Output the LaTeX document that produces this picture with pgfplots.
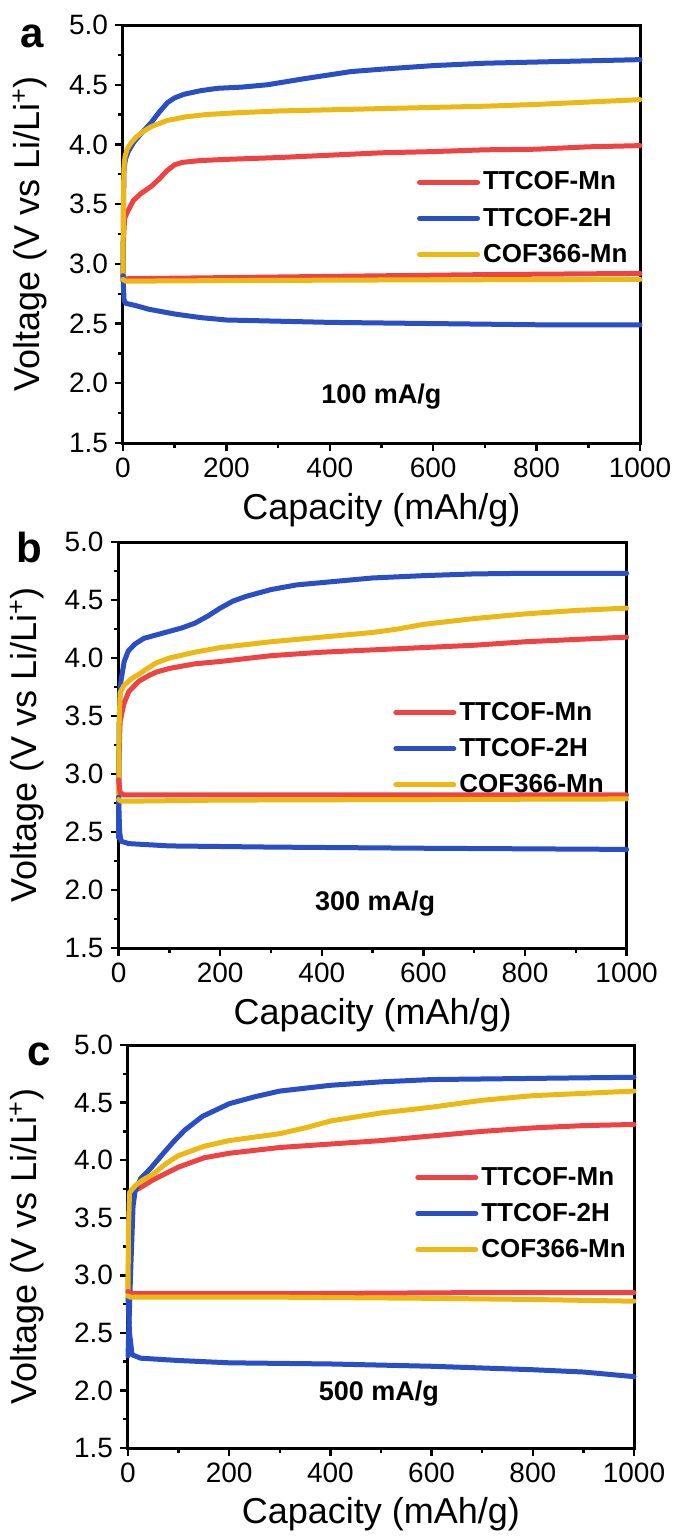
\documentclass[border=0pt]{standalone}
\usepackage{fontspec}
\setmainfont{Liberation Sans}
\usepackage{pgfplots}
\pgfplotsset{compat=1.18}
\definecolor{cred}{RGB}{239,66,66}
\definecolor{cblue}{RGB}{42,78,196}
\definecolor{cyel}{RGB}{236,185,20}
\pgfplotsset{
  panel/.style={
    scale only axis,
    xmin=0, xmax=1000, ymin=1.5, ymax=5.0,
    xtick={0,200,...,1000}, ytick={1.5,2.0,...,5.0},
    minor x tick num=1, minor y tick num=1,
    tick align=outside, xtick pos=bottom, ytick pos=left,
    major tick length=4pt, minor tick length=2.5pt,
    every tick/.style={black, line width=1.2pt},
    axis line style={line width=1.5pt},
    tick label style={font=\fontsize{14}{16}\selectfont},
    /pgf/number format/assume math mode=true,
    /pgf/number format/1000 sep={},
    yticklabel style={/pgf/number format/fixed, /pgf/number format/precision=1, /pgf/number format/fixed zerofill},
    xlabel={Capacity (mAh/g)},
    ylabel={Voltage (V vs Li/Li\textsuperscript{+})},
    label style={font=\fontsize{18}{21}\selectfont},
    clip=false,
    every axis plot/.append style={line width=2.5pt, line join=round, line cap=round, mark=none},
    legend cell align=left,
    legend style={draw=none, fill=none, inner sep=0pt, row sep=4.5pt,
      font=\bfseries\fontsize{13}{15}\selectfont,
      nodes={inner sep=1.5pt}},
    legend image code/.code={\draw[#1] (0pt,0pt) -- (29pt,0pt);},
  }
}
\begin{document}
\begin{tikzpicture}
% ---------------- panel a ----------------
\begin{axis}[panel, at={(61.5pt,-12.5pt)}, anchor=north west, width=258.5pt, height=209pt,
  xlabel style={at={(axis description cs:0.5,-0.16)}, anchor=center},
  ylabel style={at={(axis description cs:-0.18,0.5)}, anchor=center},
  legend style={at={(axis cs:568,3.80)}, anchor=north west}]
\addplot[cred] coordinates {(0,2.88)(1,3.2)(3,3.38)(8,3.43)(20,3.53)(35,3.59)(55,3.65)(70,3.71)(85,3.78)(100,3.83)(115,3.85)(150,3.865)(200,3.875)(300,3.89)(400,3.91)(500,3.93)(600,3.94)(700,3.955)(800,3.96)(900,3.98)(1000,3.99)};
\addlegendentry{TTCOF-Mn}
\addplot[cblue] coordinates {(0,2.9)(1,3.5)(2,3.8)(5,3.88)(10,3.94)(21,4.02)(35,4.09)(54,4.18)(70,4.27)(86,4.35)(100,4.39)(118,4.42)(150,4.45)(183,4.47)(230,4.48)(280,4.5)(350,4.55)(441,4.61)(500,4.63)(600,4.66)(700,4.68)(800,4.69)(900,4.70)(1000,4.71)};
\addlegendentry{TTCOF-2H}
\addplot[cyel] coordinates {(0,2.86)(1,3.6)(2,3.82)(4,3.9)(8,3.96)(15,4.01)(25,4.06)(40,4.11)(55,4.15)(85,4.2)(120,4.23)(160,4.25)(220,4.265)(300,4.28)(400,4.29)(500,4.3)(600,4.31)(700,4.32)(800,4.335)(900,4.355)(1000,4.375)};
\addlegendentry{COF366-Mn}
\addplot[cred, forget plot] coordinates {(0,2.9)(3,2.875)(100,2.88)(300,2.89)(500,2.9)(700,2.91)(1000,2.92)};
\addplot[cblue, forget plot] coordinates {(0,2.9)(2,2.7)(5,2.67)(25,2.65)(50,2.62)(75,2.6)(100,2.58)(150,2.55)(200,2.53)(300,2.52)(400,2.51)(600,2.5)(800,2.49)(1000,2.49)};
\addplot[cyel, forget plot] coordinates {(0,2.87)(5,2.855)(200,2.86)(500,2.865)(1000,2.87)};
\node[font=\bfseries\fontsize{13.5}{15}\selectfont] at (axis cs:500,1.89) {100 mA/g};
\node[font=\bfseries\fontsize{21}{24}\selectfont, anchor=base] at (rel axis cs:-0.176,0.945) {a};
\end{axis}
% ---------------- panel b ----------------
\begin{axis}[panel, at={(59.3pt,-271pt)}, anchor=north west, width=254pt, height=203pt,
  xlabel style={at={(axis description cs:0.5,-0.165)}, anchor=center},
  ylabel style={at={(axis description cs:-0.18,0.5)}, anchor=center},
  legend style={at={(axis cs:540,3.65)}, anchor=north west}]
\addplot[cred] coordinates {(0,2.82)(1,3.2)(3,3.45)(10,3.6)(20,3.71)(40,3.8)(60,3.85)(75,3.88)(100,3.91)(150,3.95)(200,3.97)(300,4.02)(400,4.05)(500,4.07)(600,4.09)(700,4.11)(800,4.14)(900,4.16)(1000,4.18)};
\addlegendentry{TTCOF-Mn}
\addplot[cblue] coordinates {(0,2.45)(1,3.4)(3,3.75)(6,3.84)(11,3.97)(19,4.06)(32,4.12)(50,4.17)(75,4.2)(100,4.23)(125,4.26)(150,4.3)(175,4.36)(200,4.43)(225,4.49)(250,4.53)(300,4.59)(350,4.63)(400,4.65)(500,4.69)(600,4.71)(700,4.725)(800,4.73)(1000,4.73)};
\addlegendentry{TTCOF-2H}
\addplot[cyel] coordinates {(0,2.77)(1,3.4)(3,3.7)(10,3.76)(25,3.82)(40,3.86)(53,3.9)(75,3.96)(100,4.0)(150,4.05)(200,4.09)(300,4.14)(400,4.18)(500,4.22)(550,4.25)(600,4.29)(700,4.34)(800,4.38)(900,4.41)(1000,4.43)};
\addlegendentry{COF366-Mn}
\addplot[cred, forget plot] coordinates {(0,2.95)(3,2.84)(10,2.82)(300,2.82)(700,2.82)(1000,2.82)};
\addplot[cblue, forget plot] coordinates {(0,2.8)(2,2.5)(5,2.42)(20,2.4)(100,2.38)(300,2.37)(600,2.36)(1000,2.35)};
\addplot[cyel, forget plot] coordinates {(0,2.78)(5,2.765)(200,2.775)(600,2.78)(1000,2.785)};
\node[font=\bfseries\fontsize{13.5}{15}\selectfont] at (axis cs:505,1.88) {300 mA/g};
\node[font=\bfseries\fontsize{21}{24}\selectfont, anchor=base] at (rel axis cs:-0.176,0.95) {b};
\end{axis}
% ---------------- panel c ----------------
\begin{axis}[panel, at={(64pt,-522.5pt)}, anchor=north west, width=253pt, height=201.5pt,
  xlabel style={at={(axis description cs:0.5,-0.165)}, anchor=center},
  ylabel style={at={(axis description cs:-0.2,0.5)}, anchor=center},
  legend style={at={(axis cs:567,3.97)}, anchor=north west}]
\addplot[cred] coordinates {(0,2.85)(2,3.5)(5,3.72)(20,3.75)(50,3.83)(100,3.94)(150,4.02)(200,4.06)(300,4.11)(400,4.14)(500,4.17)(600,4.21)(700,4.25)(800,4.28)(900,4.3)(1000,4.31)};
\addlegendentry{TTCOF-Mn}
\addplot[cblue] coordinates {(0,2.3)(5,3.0)(10,3.6)(14,3.73)(25,3.84)(45,3.93)(70,4.06)(90,4.16)(112,4.26)(147,4.38)(200,4.49)(250,4.55)(300,4.6)(400,4.65)(500,4.68)(600,4.7)(800,4.71)(1000,4.72)};
\addlegendentry{TTCOF-2H}
\addplot[cyel] coordinates {(0,2.8)(1,3.4)(3,3.72)(15,3.78)(30,3.83)(50,3.88)(75,3.97)(100,4.04)(150,4.12)(200,4.17)(300,4.23)(350,4.28)(400,4.34)(500,4.41)(600,4.46)(700,4.52)(800,4.56)(900,4.58)(1000,4.6)};
\addlegendentry{COF366-Mn}
\addplot[cred, forget plot] coordinates {(0,2.86)(5,2.84)(300,2.84)(700,2.85)(1000,2.85)};
\addplot[cblue, forget plot] coordinates {(0,2.8)(3,2.5)(8,2.31)(25,2.28)(100,2.26)(200,2.24)(400,2.23)(600,2.21)(800,2.18)(900,2.16)(1000,2.12)};
\addplot[cyel, forget plot] coordinates {(0,2.82)(5,2.81)(300,2.81)(600,2.8)(800,2.79)(1000,2.775)};
\node[font=\bfseries\fontsize{13.5}{15}\selectfont] at (axis cs:496,1.97) {500 mA/g};
\node[font=\bfseries\fontsize{21}{24}\selectfont, anchor=base] at (rel axis cs:-0.176,0.95) {c};
\end{axis}
\pgfresetboundingbox
\path (0,0) rectangle (336.5pt,-768.5pt);
\end{tikzpicture}
\end{document}
